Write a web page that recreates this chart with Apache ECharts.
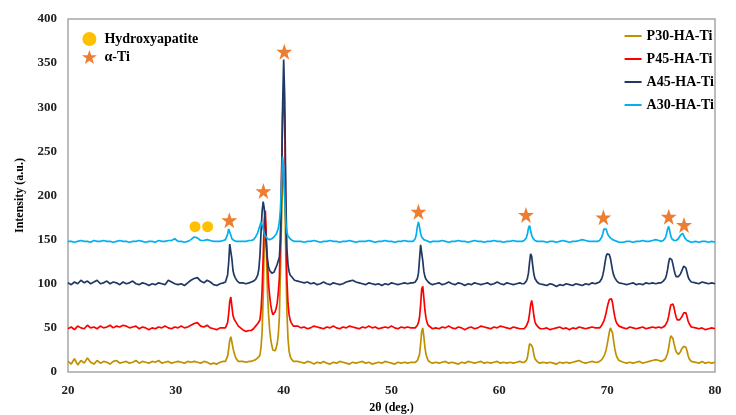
<!DOCTYPE html>
<html>
<head>
<meta charset="utf-8">
<script src="https://cdn.jsdelivr.net/npm/echarts@6/dist/echarts.min.js"></script>
<style>
html,body{margin:0;padding:0;background:#fff;}
#chart{width:736px;height:415px;}
</style>
</head>
<body>
<div id="chart"></div>
<script>
// 2θ sampling positions (deg.)
const twoTheta = [
20.0,20.3,20.6,20.9,21.2,21.5,21.8,22.1,22.4,22.7,23.0,23.3,23.6,23.9,24.2,24.5,24.8,25.1,25.4,25.7,26.0,26.3,26.6,26.9,27.2,27.5,27.8,28.1,28.4,28.7,29.0,29.3,29.6,29.9,30.2,30.5,30.8,31.1,31.4,31.7,32.0,32.3,32.6,32.9,33.2,33.5,33.8,34.1,34.4,
34.5,34.6,34.7,34.8,34.9,35.0,35.1,35.2,35.3,35.4,35.5,35.6,35.7,35.8,35.9,
36.2,36.5,36.8,
37.0,37.1,37.2,37.3,37.4,37.5,37.6,37.7,37.8,37.9,38.0,38.1,38.2,38.3,38.4,38.5,38.6,38.7,38.8,38.9,39.0,39.1,39.2,39.3,39.4,39.5,39.6,39.7,39.8,39.9,40.0,40.1,40.2,40.3,40.4,40.5,40.6,40.7,40.8,40.9,41.0,
41.3,41.6,41.9,42.2,42.5,42.8,43.1,43.4,43.7,44.0,44.3,44.6,44.9,45.2,45.5,45.8,46.1,46.4,46.7,47.0,47.3,47.6,47.9,48.2,48.5,48.8,49.1,49.4,49.7,50.0,50.3,50.6,50.9,51.2,51.5,51.8,
52.0,52.1,52.2,52.3,52.4,52.5,52.6,52.7,52.8,52.9,53.0,53.1,53.2,53.3,53.4,53.5,53.6,53.7,53.8,
54.1,54.4,54.7,55.0,55.3,55.6,55.9,56.2,56.5,56.8,57.1,57.4,57.7,58.0,58.3,58.6,58.9,59.2,59.5,59.8,60.1,60.4,60.7,61.0,61.3,61.6,61.9,
62.1,62.2,62.3,62.4,62.5,62.6,62.7,62.8,62.9,63.0,63.1,63.2,63.3,63.4,63.5,63.6,63.7,63.8,
64.1,64.4,64.7,65.0,65.3,65.6,65.9,66.2,66.5,66.8,67.1,67.4,67.7,68.0,68.3,68.6,68.9,
69.1,69.2,69.3,69.4,69.5,69.6,69.7,69.8,69.9,70.0,70.1,70.2,70.3,70.4,70.5,70.6,70.7,70.8,70.9,71.0,71.1,71.2,
71.5,71.8,72.1,72.4,72.7,73.0,73.3,73.6,73.9,74.2,74.5,74.8,
75.0,75.1,75.2,75.3,75.4,75.5,75.6,75.7,75.8,75.9,76.0,76.1,76.2,76.3,76.4,76.5,76.6,76.7,76.8,76.9,77.0,77.1,77.2,77.3,77.4,77.5,77.6,77.7,77.8,77.9,
78.2,78.5,78.8,79.1,79.4,79.7,80.0
];

// P30-HA-Ti intensities
const p30 = [
12,9,15,8,13,10,16,11,9,13,10,12,11,9,12,13,10,11,12,10,11,13,10,12,11,10,12,11,13,10,11,12,10,11,12,11,10,12,11,12,11,10,12,11,9,10,9,11,12,
11,12,14,18,26,36,40,34,27,22,18,15,13,12,11,
12,11,12,
12,11,13,13,14,15,16,17,19,28,45,85,145,172,135,90,65,48,37,30,25,23,24,27,32,42,62,115,170,212,226,205,130,68,38,24,18,15,13,12,12,
12,11,10,12,11,9,11,10,12,10,9,11,10,12,11,10,9,11,10,11,12,10,11,9,10,11,10,12,11,10,9,11,10,11,10,11,
11,10,11,12,13,15,20,32,46,50,40,28,20,16,13,12,11,11,10,
11,10,11,12,10,11,10,9,11,10,12,11,10,11,12,10,11,10,11,12,10,11,10,11,10,11,12,
11,10,11,12,13,16,24,32,34,30,27,20,15,13,12,11,10,11,
11,10,11,10,9,11,10,11,10,11,12,13,11,10,11,12,11,
11,12,12,13,14,16,18,21,25,31,38,45,50,49,44,35,27,21,17,15,13,12,
11,10,11,10,11,12,10,11,12,13,14,13,
12,12,13,14,15,17,21,27,35,41,42,38,32,27,23,21,20,21,23,26,28,29,30,28,24,19,15,13,12,11,
11,10,12,10,11,10,11
];

// P45-HA-Ti intensities
const p45 = [
49,51,48,52,50,49,53,50,51,49,52,50,51,53,50,52,51,53,52,50,51,52,49,51,50,48,50,49,51,50,52,50,49,51,50,52,50,51,53,55,56,52,51,53,50,49,48,50,50,
49,50,52,56,66,80,85,74,64,60,58,56,54,52,51,
48,46,47,
47,48,49,50,52,54,55,56,59,70,92,130,172,183,150,122,100,86,76,69,65,65,68,72,78,90,106,150,220,290,318,280,170,105,78,65,59,56,54,52,51,
52,50,51,49,50,52,51,50,49,51,50,52,50,49,51,50,52,51,50,49,51,50,52,50,51,49,50,51,50,52,50,49,51,50,51,50,
50,51,50,52,53,56,62,76,94,97,84,70,61,56,53,52,51,50,49,
50,49,51,50,52,50,49,51,50,48,50,51,49,50,52,51,50,49,51,50,52,51,50,49,51,50,49,
49,50,49,51,52,54,58,66,76,81,74,64,57,54,52,51,50,49,
49,50,48,49,50,51,49,50,48,50,49,51,50,49,50,51,50,
50,51,50,52,53,55,58,62,67,73,78,82,84,83,78,70,63,58,55,53,52,51,
50,49,51,50,49,50,51,49,50,51,50,51,
50,50,51,52,53,55,58,63,70,76,78,77,73,67,62,59,58,59,60,62,64,67,68,67,63,58,55,53,51,50,
50,49,50,48,49,50,49
];

// A45-HA-Ti intensities
const a45 = [
101,99,102,100,104,101,103,100,102,104,100,101,103,100,102,101,99,102,100,101,103,100,99,101,100,98,100,99,101,100,99,104,102,100,99,100,98,101,104,106,107,103,101,104,102,99,98,100,101,
101,102,104,110,124,145,146,128,115,110,107,105,103,102,101,
101,100,101,
102,101,103,104,105,107,110,117,132,158,182,193,185,165,142,127,119,115,113,112,114,113,116,119,122,124,130,150,205,300,354,310,200,140,122,114,110,108,107,105,104,
103,102,101,102,100,101,99,100,102,100,99,101,100,99,100,102,103,104,102,101,100,99,101,100,99,100,98,100,99,101,100,99,100,101,100,101,
101,100,102,103,106,112,128,144,142,126,114,108,105,103,102,101,100,101,99,
100,101,99,100,102,100,99,101,100,98,100,99,101,100,99,100,101,99,100,102,100,99,101,100,99,100,101,
100,101,100,102,103,106,112,124,134,131,120,111,106,104,102,101,100,99,
99,98,100,99,97,99,98,100,99,98,100,99,98,100,99,101,100,
101,102,102,104,106,110,116,124,131,134,132,133,129,122,115,110,107,105,103,102,101,100,
100,99,100,101,99,100,99,101,100,101,100,101,
101,102,103,104,106,110,116,124,129,130,127,122,116,111,108,107,108,109,111,114,117,120,120,118,113,108,105,103,102,101,
101,100,102,101,100,101,100
];

// A30-HA-Ti intensities
const a30 = [
148,148,147,148,149,148,148,147,149,148,148,149,148,148,147,148,149,148,148,147,148,148,149,148,147,148,148,147,149,148,148,149,149,151,148,148,147,148,150,153,152,149,149,150,149,148,148,148,149,
149,150,152,156,162,161,155,151,150,149,149,148,148,148,148,
148,148,149,
149,150,150,151,153,155,158,162,166,170,168,162,157,154,152,151,151,150,151,151,152,153,154,156,159,163,170,185,215,244,232,195,168,158,154,152,151,150,149,149,148,
148,148,147,148,148,149,148,147,148,148,149,148,148,147,148,148,149,148,147,148,148,148,149,148,147,148,148,149,148,148,147,148,148,149,148,148,
148,149,151,156,165,170,164,157,153,151,150,149,149,148,148,148,147,148,148,
148,148,149,148,147,148,148,149,148,148,147,148,149,148,148,147,148,148,149,148,148,147,148,148,149,148,148,
148,148,149,150,152,156,163,166,160,155,152,150,149,149,148,148,148,147,
148,147,148,148,147,148,149,148,147,148,148,149,150,149,148,148,148,
148,149,149,151,153,157,162,164,162,158,155,153,152,151,150,149,149,148,148,148,147,148,
147,148,148,147,148,148,149,148,148,149,150,149,
148,148,149,150,152,156,162,165,160,154,151,150,149,149,149,150,151,153,155,157,157,155,152,150,149,148,148,148,147,148,
148,147,148,148,147,148,147
];

// Phase markers
const hydroxyapatite = [[31.78, 164.7], [32.95, 164.7]];
const alphaTi = [[34.96, 172], [38.12, 205], [40.06, 363], [52.5, 181.6], [62.47, 178], [69.65, 175.3], [75.71, 176], [77.13, 166.6]];

const seriesNames = ['P30-HA-Ti', 'P45-HA-Ti', 'A45-HA-Ti', 'A30-HA-Ti'];
const seriesColors = ['#BF9000', '#FF0000', '#203864', '#00B0F0'];
const seriesValues = [p30, p45, a45, a30];

const font = 'Liberation Serif, Times New Roman, serif';
const starPath = 'path://M50,2 L61.8,36.2 L97.6,36.2 L68.6,57.4 L79.4,92 L50,71 L20.6,92 L31.4,57.4 L2.4,36.2 L38.2,36.2 Z';

const bad = seriesValues.map((v, i) => v.length !== twoTheta.length ? seriesNames[i] + ':' + v.length + '/' + twoTheta.length : null).filter(Boolean);

const chart = echarts.init(document.getElementById('chart'), null, {renderer: 'canvas'});

const lineSeries = seriesNames.map((n, k) => ({
  name: n,
  type: 'line',
  data: twoTheta.map((x, i) => [x, seriesValues[k][i]]),
  symbol: 'none',
  lineStyle: {color: seriesColors[k], width: 1.7},
  itemStyle: {color: seriesColors[k]},
  z: 2 + k,
  silent: true
}));

chart.setOption({
  animation: false,
  backgroundColor: '#fff',
  title: bad.length ? {text: 'LEN ' + bad.join(' '), left: 200, top: 150} : undefined,
  grid: {left: 68, right: 21, top: 19, bottom: 43, show: true, borderColor: '#A6A6A6', borderWidth: 1.5, containLabel: false, outerBoundsMode: 'none'},
  legend: [
    {
      data: seriesNames,
      orient: 'vertical',
      right: 22, top: 29,
      align: 'left',
      icon: 'rect',
      itemWidth: 17, itemHeight: 2,
      itemGap: 9,
      padding: 0,
      selectedMode: false,
      textStyle: {fontFamily: font, fontWeight: 'bold', fontSize: 14, color: '#000'}
    },
    {
      data: [{name: 'Hydroxyapatite', icon: 'circle'}, {name: 'α-Ti', icon: starPath}],
      orient: 'vertical',
      left: 82, top: 32,
      align: 'left',
      itemWidth: 20, itemHeight: 14,
      itemGap: 4,
      padding: 0,
      selectedMode: false,
      textStyle: {fontFamily: font, fontWeight: 'bold', fontSize: 14, color: '#000'}
    }
  ],
  xAxis: {
    type: 'value', min: 20, max: 80, interval: 10,
    name: '2θ (deg.)', nameLocation: 'middle', nameGap: 29,
    nameTextStyle: {fontFamily: font, fontWeight: 'bold', fontSize: 12, color: '#000'},
    axisLine: {show: false}, axisTick: {show: false}, splitLine: {show: false},
    axisLabel: {fontFamily: font, fontWeight: 'bold', fontSize: 13, color: '#222', margin: 12}
  },
  yAxis: {
    type: 'value', min: 0, max: 400, interval: 50,
    name: 'Intensity (a.u.)', nameLocation: 'middle', nameGap: 42, nameRotate: 90,
    nameTextStyle: {fontFamily: font, fontWeight: 'bold', fontSize: 12, color: '#000'},
    axisLine: {show: false}, axisTick: {show: false}, splitLine: {show: false},
    axisLabel: {fontFamily: font, fontWeight: 'bold', fontSize: 13, color: '#222', margin: 11}
  },
  series: lineSeries.concat([
    {
      name: 'Hydroxyapatite', type: 'scatter', data: hydroxyapatite,
      symbol: 'circle', symbolSize: 11,
      itemStyle: {color: '#FFC000', opacity: 1}, z: 10, silent: true
    },
    {
      name: 'α-Ti', type: 'scatter', data: alphaTi,
      symbol: starPath, symbolSize: 16,
      itemStyle: {color: '#ED7D31', opacity: 1}, z: 10, silent: true
    }
  ])
});
</script>
</body>
</html>
